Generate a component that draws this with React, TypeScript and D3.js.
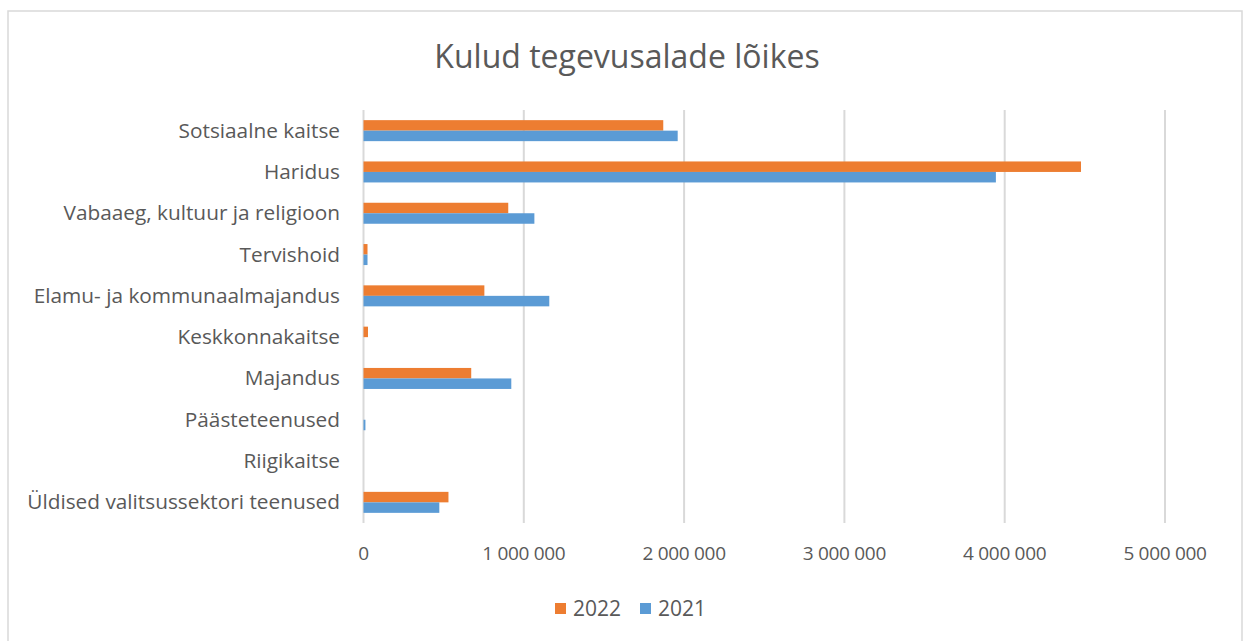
import React from 'react';
import * as d3 from 'd3';

const categories = [
    'Sotsiaalne kaitse',
    'Haridus',
    'Vabaaeg, kultuur ja religioon',
    'Tervishoid',
    'Elamu- ja kommunaalmajandus',
    'Keskkonnakaitse',
    'Majandus',
    'Päästeteenused',
    'Riigikaitse',
    'Üldised valitsussektori teenused',
];
const values2022 = [1870000, 4476000, 903000, 25000, 754000, 28000, 672000, 0, 0, 530000];
const values2021 = [1960000, 3945000, 1066000, 25000, 1159000, 0, 922000, 12000, 0, 473000];
const series = ['2022', '2021'];
const seriesColors = ['#ED7D31', '#5B9BD5'];
const xTicks = [0, 1000000, 2000000, 3000000, 4000000, 5000000];

const width = 1244;
const height = 641;
const font = '"Open Sans", Lato, sans-serif';
const textColor = '#595959';

const fmt = (v: number) => d3.format(',')(v).replace(/,/g, ' ');

const App: React.FC = () => {
    const x = d3.scaleLinear().domain([0, 5000000]).range([363.5, 1165]);
    const y = d3.scaleBand<string>().domain(categories).range([110, 523]);
    const barH = 10.5;
    const sub = d3.scaleBand<string>().domain(series).range([-barH, barH]);
    const data = [values2022, values2021];

    return (
        <svg width={width} height={height} style={{ position: 'absolute', left: 0, top: 0 }}>
            <rect x={0} y={0} width={width} height={height} fill="#fff" />
            <rect x={8} y={11} width={1234} height={650} fill="none" stroke="#d9d9d9" strokeWidth={1.5} />
            <text x={627} y={68} textAnchor="middle" fontFamily={font} fontSize={32} fill={textColor}>
                Kulud tegevusalade lõikes
            </text>
            {xTicks.map(t => (
                <g key={t}>
                    <line x1={x(t)} x2={x(t)} y1={110} y2={523} stroke="#d9d9d9" strokeWidth={2} />
                    <text x={x(t)} y={560} textAnchor="middle" fontFamily={font} fontSize={19} letterSpacing={-0.3} fill={textColor}>
                        {fmt(t)}
                    </text>
                </g>
            ))}
            {categories.map((c, i) => {
                const cy = (y(c) ?? 0) + y.bandwidth() / 2;
                return (
                    <g key={c}>
                        <text x={340} y={cy + 7} textAnchor="end" fontFamily={font} fontSize={20.8} fill={textColor}>
                            {c}
                        </text>
                        {series.map((s, j) =>
                            data[j][i] > 0 ? (
                                <rect
                                    key={s}
                                    x={x(0)}
                                    y={cy + (sub(s) ?? 0)}
                                    width={x(data[j][i]) - x(0)}
                                    height={sub.bandwidth()}
                                    fill={seriesColors[j]}
                                />
                            ) : null
                        )}
                    </g>
                );
            })}
            {series.map((s, j) => {
                const lx = 555 + j * 85;
                return (
                    <g key={s}>
                        <rect x={lx} y={603} width={11} height={11} fill={seriesColors[j]} />
                        <text x={lx + 18} y={615.5} fontFamily={font} fontSize={21} fill={textColor}>
                            {s}
                        </text>
                    </g>
                );
            })}
        </svg>
    );
};

export default App;
